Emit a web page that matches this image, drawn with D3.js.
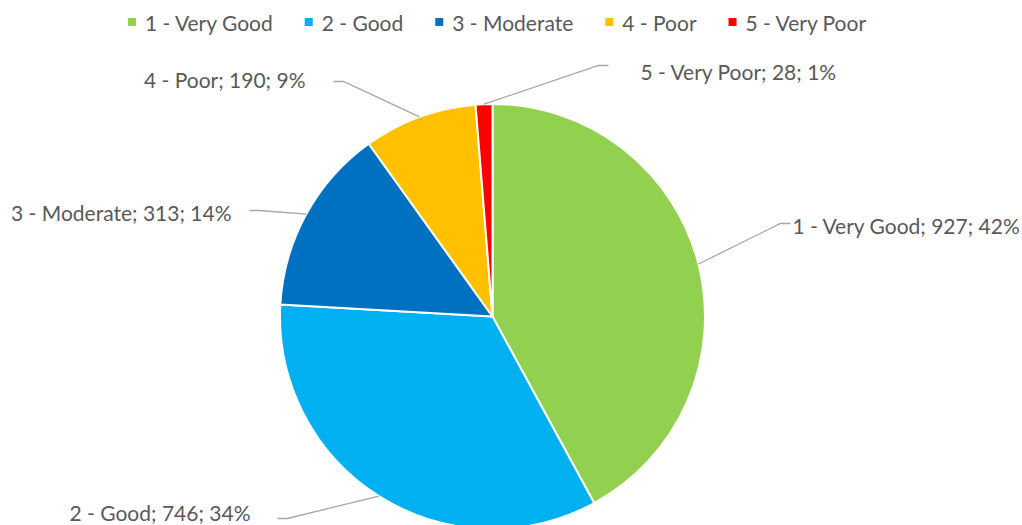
<!DOCTYPE html>
<html>
<head>
<meta charset="utf-8">
<script src="https://cdn.jsdelivr.net/npm/d3@7"></script>
<style>
  html, body { margin: 0; padding: 0; background: #fff; }
  svg { display: block; }
  text { font-family: Lato, "Open Sans", sans-serif; fill: #595959; }
</style>
</head>
<body>
<svg id="chart" width="1022" height="525"></svg>
<script>
// Ratings and their counts
const categories = ["1 - Very Good", "2 - Good", "3 - Moderate", "4 - Poor", "5 - Very Poor"];
const counts = [927, 746, 313, 190, 28];
const colors = ["#92D050", "#00B0F0", "#0070C0", "#FFC000", "#FF0000"];

// Callout placement, relative to the pie centre: elbow of the leader, its end, label anchor
const calloutLayout = [
  { elbow: [288, -93],  end: [298, -93],  text: [300, -91],  anchor: "start" },
  { elbow: [-205, 202], end: [-215, 202], text: [-242, 196], anchor: "end" },
  { elbow: [-233, -106], end: [-243, -106], text: [-261, -104], anchor: "end" },
  { elbow: [-149, -235], end: [-159, -235], text: [-187, -237], anchor: "end" },
  { elbow: [106, -251], end: [116, -251], text: [148, -245], anchor: "start" }
];

const W = 1022, H = 525;
const cx = 492.5, cy = 316.5, R = 212.5;
const fontSize = 21;

const svg = d3.select("#chart");
const total = d3.sum(counts);
const data = categories.map((c, i) => ({ cat: c, value: counts[i], color: colors[i], layout: calloutLayout[i] }));

const pie = d3.pie().value(d => d.value).sort(null);
const arcs = pie(data);
const arc = d3.arc().innerRadius(0).outerRadius(R);

const g = svg.append("g").attr("transform", `translate(${cx},${cy})`);

g.selectAll("path.slice")
  .data(arcs)
  .join("path")
  .attr("class", "slice")
  .attr("d", arc)
  .attr("fill", d => d.data.color)
  .attr("stroke", "#fff")
  .attr("stroke-width", 2)
  .attr("stroke-linejoin", "round");

// Leader lines from the middle of each slice's rim
g.selectAll("polyline.leader")
  .data(arcs)
  .join("polyline")
  .attr("class", "leader")
  .attr("fill", "none")
  .attr("stroke", "#A6A6A6")
  .attr("stroke-width", 1.3)
  .attr("points", d => {
    const a = (d.startAngle + d.endAngle) / 2;
    const p = [R * Math.sin(a), -R * Math.cos(a)];
    return [p, d.data.layout.elbow, d.data.layout.end].map(q => q.join(",")).join(" ");
  });

const pct = d => Math.round(d.value / total * 100) + "%";
g.selectAll("text.callout")
  .data(arcs)
  .join("text")
  .attr("class", "callout")
  .attr("x", d => d.data.layout.text[0])
  .attr("y", d => d.data.layout.text[1])
  .attr("text-anchor", d => d.data.layout.anchor)
  .attr("dominant-baseline", "central")
  .style("font-size", fontSize + "px")
  .text(d => `${d.data.cat}; ${d.data.value}; ${pct(d.data)}`);

// Legend across the top, centred
const legend = svg.append("g").attr("class", "legend");
const sq = 8, sqGap = 9, itemGap = 32, legendY = 22;
const items = legend.selectAll("g.item")
  .data(data)
  .join("g")
  .attr("class", "item");
items.append("rect")
  .attr("width", sq).attr("height", sq)
  .attr("y", legendY - sq / 2)
  .attr("fill", d => d.color);
items.append("text")
  .attr("x", sq + sqGap)
  .attr("y", legendY)
  .attr("dominant-baseline", "central")
  .style("font-size", fontSize + "px")
  .text(d => d.cat);

const widths = [];
items.each(function () {
  widths.push(sq + sqGap + this.querySelector("text").getComputedTextLength());
});
const totalW = d3.sum(widths) + itemGap * (widths.length - 1);
let x = 497 - totalW / 2;
items.each(function (d, i) {
  d3.select(this).attr("transform", `translate(${x},0)`);
  x += widths[i] + itemGap;
});
</script>
</body>
</html>
